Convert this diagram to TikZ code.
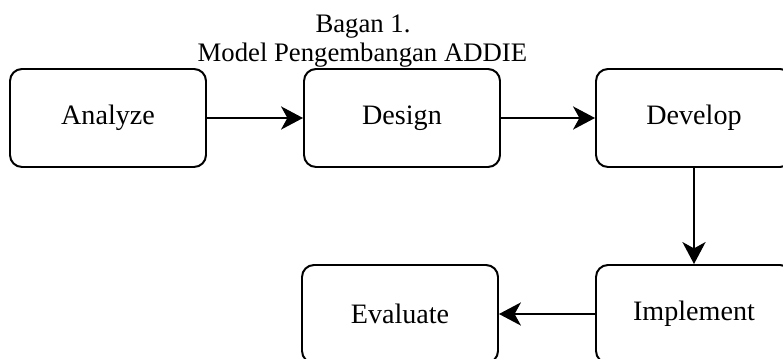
\documentclass[tikz,border=0pt]{standalone}
\usepackage{fontspec}
\setmainfont{Liberation Serif}
\usetikzlibrary{arrows.meta}

\begin{document}
\begin{tikzpicture}[
    phase/.style={draw, line width=1.4pt, rounded corners=0.3cm,
      minimum width=4.9cm, minimum height=2.45cm,
      font=\fontsize{20}{24}\selectfont},
    flow/.style={line width=1.4pt,
      -{Stealth[length=0.55cm, width=0.58cm, inset=0.16cm]}}
  ]
  % Layout anchors
  \useasboundingbox (0,0) rectangle (19.575,8.95);

  % -------- heading --------
  \node[anchor=base, font=\fontsize{19}{23}\selectfont] (title) at (9.075,8.125) {Bagan 1.};
  \node[anchor=base, font=\fontsize{19}{23}\selectfont] (subtitle) at (9.06,7.4) {Model Pengembangan ADDIE};

  % -------- top row --------
  \node[phase] (analyze) at (2.7,6.0) {Analyze};
  \node[phase] (design) at (10.05,6.0) {Design};
  \node[phase] (develop) at (17.35,6.0) {Develop};

  % -------- bottom row --------
  \node[phase] (evaluate) at (10.0,1.1) {Evaluate};
  \node[phase] (implement) at (17.35,1.1) {Implement};

  % -------- connectors --------
  \draw[flow] (analyze) -- (design);
  \draw[flow] (design) -- (develop);
  \draw[flow] (develop) -- (implement);
  \draw[flow] (implement) -- (evaluate);
\end{tikzpicture}
\end{document}
